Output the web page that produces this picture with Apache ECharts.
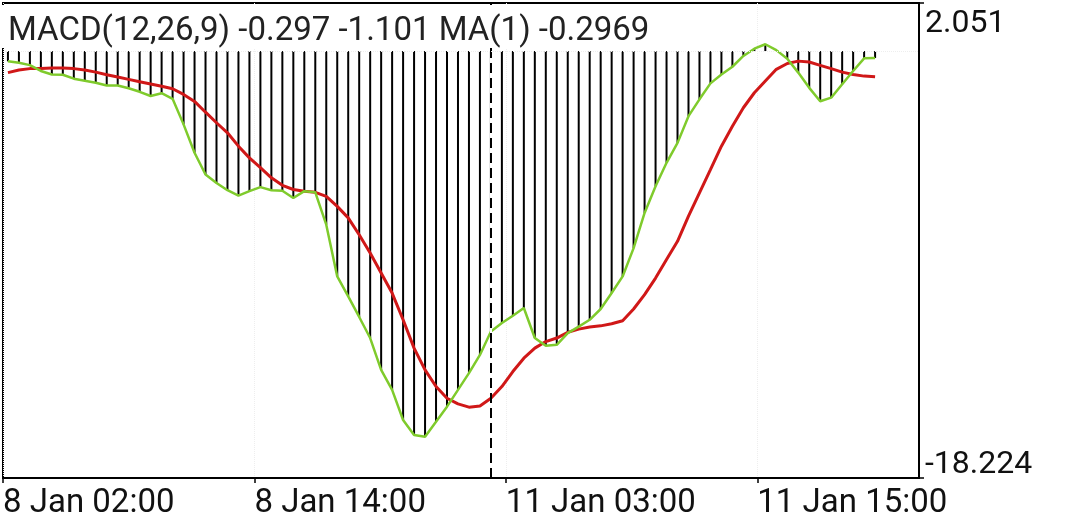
<!DOCTYPE html>
<html>
<head>
<meta charset="utf-8">
<script src="https://cdn.jsdelivr.net/npm/echarts@6/dist/echarts.min.js"></script>
<style>
  html, body { margin: 0; padding: 0; background: #fff; }
  #chart { width: 1080px; height: 521px; }
</style>
</head>
<body>
<div id="chart"></div>
<script>
// MACD histogram / main line (green), one value per bar
var macd = [-0.44, -0.50, -0.60, -0.85, -1.00, -1.01, -1.18, -1.27, -1.35, -1.47,
  -1.47, -1.59, -1.74, -1.92, -1.80, -2.04, -3.13, -4.34, -5.27, -5.63,
  -5.94, -6.17, -5.98, -5.81, -5.94, -5.96, -6.27, -5.98, -6.03, -7.41,
  -9.62, -10.47, -11.35, -12.25, -13.61, -14.46, -15.75, -16.39, -16.46, -15.82,
  -15.18, -14.46, -13.75, -12.97, -11.97, -11.61, -11.30, -10.97, -12.25, -12.58,
  -12.54, -12.04, -11.76, -11.47, -11.01, -10.33, -9.62, -8.41, -6.91, -5.77,
  -4.77, -3.92, -2.78, -2.06, -1.38, -1.00, -0.67, -0.21, 0.10, 0.29,
  0.04, -0.33, -0.92, -1.57, -2.14, -1.99, -1.42, -0.85, -0.31, -0.297];

// signal line (red)
var signal = [-0.92, -0.81, -0.75, -0.74, -0.72, -0.72, -0.75, -0.81, -0.90, -1.01,
  -1.11, -1.21, -1.31, -1.41, -1.50, -1.61, -1.85, -2.15, -2.61, -3.06,
  -3.49, -4.06, -4.56, -4.98, -5.41, -5.73, -5.91, -5.98, -6.03, -6.20,
  -6.63, -7.12, -7.84, -8.62, -9.47, -10.33, -11.47, -12.68, -13.61, -14.32,
  -14.82, -15.06, -15.20, -15.15, -14.82, -14.32, -13.68, -13.11, -12.68, -12.40,
  -12.25, -12.01, -11.87, -11.78, -11.73, -11.64, -11.51, -11.01, -10.40, -9.69,
  -8.90, -8.12, -7.05, -6.05, -5.06, -4.06, -3.21, -2.42, -1.78, -1.28,
  -0.78, -0.53, -0.43, -0.47, -0.61, -0.75, -0.90, -1.00, -1.07, -1.101];

// time labels on the bottom axis, placed at bar positions
var timeTickAt = [-0.45, 22.46, 45.36, 68.27];
var timeLabels = ['8 Jan 02:00', '8 Jan 14:00', '11 Jan 03:00', '11 Jan 15:00'];

// price scale ends (right axis)
var yMax = 2.051;
var yMin = -18.224;

// crosshair bar
var cursorAt = 44;

var header = 'MACD(12,26,9) -0.297 -1.101 MA(1) -0.2969';

var font = 'Roboto';

var chart = echarts.init(document.getElementById('chart'));

chart.setOption({
  animation: false,
  backgroundColor: '#fff',
  title: {
    text: header,
    left: 0,
    top: 5,
    padding: [10, 6, 0, 8],
    backgroundColor: '#fff',
    textStyle: { fontFamily: font, fontSize: 33, fontWeight: 'normal', color: '#222' }
  },
  grid: {
    left: 1, right: 161, top: 3, bottom: 43,
    show: true, borderColor: '#000', borderWidth: 2
  },
  xAxis: {
    type: 'value',
    min: -0.45,
    max: 83,
    interval: 84 / 11,
    axisLine: { show: true, onZero: false, lineStyle: { color: '#000', width: 2 } },
    axisTick: { show: true, customValues: timeTickAt, length: 5, lineStyle: { color: '#000', width: 1.5 } },
    axisLabel: {
      customValues: timeTickAt,
      align: 'left',
      margin: 9,
      fontFamily: font, fontSize: 33, color: '#111',
      formatter: function (v) {
        for (var i = 0; i < timeTickAt.length; i++) {
          if (Math.abs(timeTickAt[i] - v) < 1e-6) return timeLabels[i];
        }
        return '';
      }
    },
    splitLine: { show: true, lineStyle: { color: '#eeeeee', type: 'dotted', width: 1 } }
  },
  yAxis: [{
    type: 'value',
    position: 'right',
    min: yMin, max: yMax,
    axisLine: { show: true, onZero: false, lineStyle: { color: '#000', width: 2 } },
    axisTick: { show: true, customValues: [yMax], length: 5, lineStyle: { color: '#000', width: 1.5 } },
    axisLabel: {
      customValues: [yMax], verticalAlign: 'top', lineHeight: 42, margin: 6,
      fontFamily: font, fontSize: 32, color: '#111',
      formatter: function (v) { return v.toFixed(3); }
    },
    splitLine: { show: false }
  }, {
    type: 'value',
    position: 'right',
    min: yMin, max: yMax,
    axisLine: { show: false, onZero: false },
    axisTick: { show: true, customValues: [yMin], length: 5, lineStyle: { color: '#000', width: 1.5 } },
    axisLabel: {
      customValues: [yMin], verticalAlign: 'bottom', lineHeight: 26, margin: 6,
      fontFamily: font, fontSize: 32, color: '#111',
      formatter: function (v) { return v.toFixed(3); }
    },
    splitLine: { show: false }
  }],
  series: [{
    name: 'hist',
    type: 'bar',
    barWidth: 2,
    itemStyle: { color: '#000' },
    data: macd.map(function (v, i) { return [i, v]; }),
    markLine: {
      silent: true,
      symbol: 'none',
      label: { show: false },
      data: [
        { xAxis: cursorAt, lineStyle: { color: '#fff', width: 2, type: 'solid' } },
        { xAxis: cursorAt, lineStyle: { color: '#000', width: 2, type: [10, 5] } }
      ]
    }
  }, {
    name: 'signal',
    type: 'line',
    showSymbol: false,
    lineStyle: { color: '#d01818', width: 3 },
    data: signal.map(function (v, i) { return [i, v]; }),
    markLine: {
      silent: true,
      symbol: 'none',
      label: { show: false },
      lineStyle: { color: '#eeeeee', type: 'dotted', width: 1 },
      data: [{ yAxis: 0 }]
    }
  }, {
    name: 'macd',
    type: 'line',
    showSymbol: false,
    lineStyle: { color: '#7fcb2c', width: 2.5 },
    data: macd.map(function (v, i) { return [i, v]; })
  }]
});
</script>
</body>
</html>
